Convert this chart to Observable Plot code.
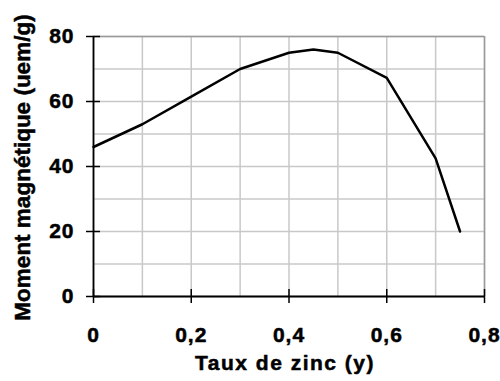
<!DOCTYPE html>
<html>
<head>
<meta charset="utf-8">
<script src="https://cdn.jsdelivr.net/npm/d3@7"></script>
<script src="https://cdn.jsdelivr.net/npm/@observablehq/plot@0.6"></script>
<style>
  body { margin: 0; background: #fff; }
  svg text { font-family: "Liberation Sans", Arial, sans-serif; font-weight: bold; stroke: #000; stroke-width: 0.5px; }
</style>
</head>
<body>
<div id="chart"></div>
<script>
const zincRate = [0, 0.1, 0.2, 0.3, 0.4, 0.45, 0.5, 0.6, 0.7, 0.75];
const moment = [46, 53, 61.5, 70, 75, 76, 75, 67.3, 42.5, 20];
const xTicks = [0, 0.2, 0.4, 0.6, 0.8];
const yTicks = [0, 20, 40, 60, 80];
const xGrid = [0, 0.1, 0.2, 0.3, 0.4, 0.5, 0.6, 0.7, 0.8];
const yGrid = [0, 10, 20, 30, 40, 50, 60, 70, 80];
const xLabel = "Taux de zinc (y)";
const yLabel = "Moment magnétique (uem/g)";

const data = zincRate.map((x, i) => ({x, y: moment[i]}));
const fmt = d => String(d).replace(".", ",");

const chart = Plot.plot({
  width: 500,
  height: 381,
  marginLeft: 93,
  marginRight: 16,
  marginTop: 36,
  marginBottom: 85,
  x: {domain: [0, 0.8]},
  y: {domain: [0, 80]},
  marks: [
    Plot.ruleX(xGrid, {stroke: "#c8c8c8", strokeWidth: 1.5}),
    Plot.ruleY(yGrid, {stroke: "#c8c8c8", strokeWidth: 1.5}),
    Plot.ruleY([80], {stroke: "#9a9a9a", strokeWidth: 1.5}),
    Plot.ruleX([0.8], {stroke: "#9a9a9a", strokeWidth: 1.5}),
    Plot.ruleX([0], {stroke: "#000", strokeWidth: 1.8}),
    Plot.ruleY([0], {stroke: "#000", strokeWidth: 1.8}),
    Plot.axisY({ticks: yTicks, tickSize: 14, dx: 7, tickFormat: () => "", stroke: "#000", strokeWidth: 1.5, label: null}),
    Plot.axisX({ticks: xTicks, tickSize: 14, dy: -7, tickFormat: () => "", stroke: "#000", strokeWidth: 1.5, label: null}),
    Plot.axisY({ticks: yTicks, tickSize: 0, tickPadding: 19, fill: "#000", label: null}),
    Plot.axisX({ticks: xTicks, tickSize: 0, tickPadding: 31, fill: "#000", tickFormat: fmt, label: null}),
    Plot.line(data, {x: "x", y: "y", stroke: "#000", strokeWidth: 2.5}),
    Plot.text([xLabel], {frameAnchor: "bottom", dy: 73, dx: -4, fill: "#000"}),
    Plot.text([yLabel], {frameAnchor: "left", textAnchor: "middle", rotate: -90, dx: -71, dy: 1, fill: "#000"})
  ]
});
d3.select(chart).selectAll("text").each(function() {
  const t = this.textContent;
  const s = d3.select(this);
  if (t === yLabel) {
    s.style("font-size", "22.5px");
  } else if (t === xLabel) {
    s.style("font-size", "21px").style("letter-spacing", "1.5px");
  } else {
    s.style("font-size", "21px").style("letter-spacing", "1px");
  }
});
document.getElementById("chart").appendChild(chart);
</script>
</body>
</html>
